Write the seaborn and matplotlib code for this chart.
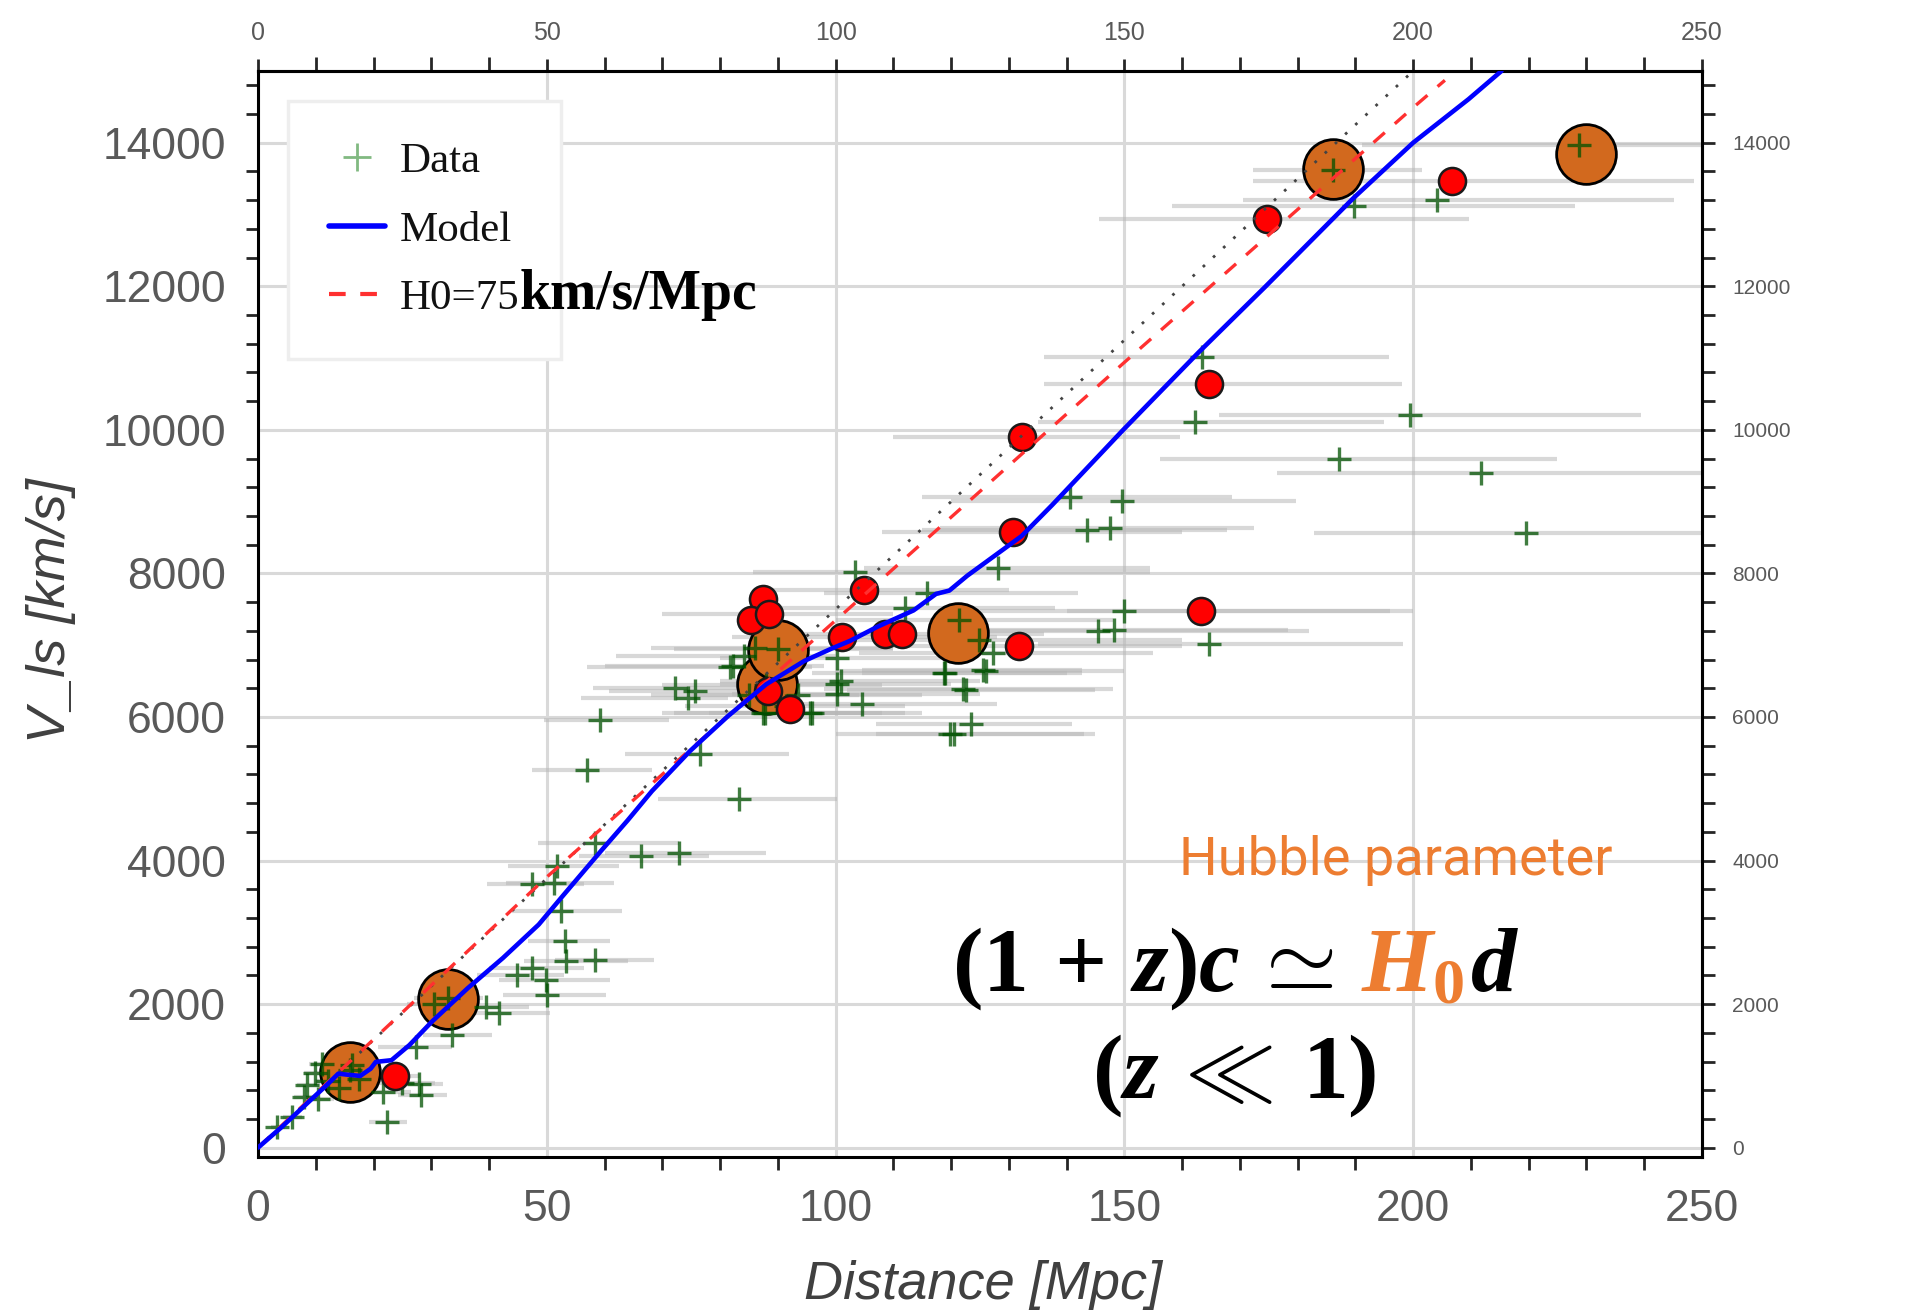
import matplotlib
matplotlib.use("Agg")
import matplotlib.pyplot as plt
import seaborn as sns
from matplotlib.lines import Line2D
from matplotlib.ticker import MultipleLocator
from matplotlib.offsetbox import TextArea, HPacker, AnnotationBbox

# ---------------- data ----------------
data_d = [3.2, 5.8, 8.0, 8.5, 9.9, 10.4, 11.0, 12.1, 14.0, 16.2, 17.5, 22.4, 21.6, 25.0, 27.8, 28.3,
          27.4, 30.5, 33.6, 39.4, 41.7, 44.8, 47.5, 49.8, 50.0, 53.4, 58.3, 53.2, 52.5, 47.5, 51.3,
          51.7, 58.4, 66.3, 72.9, 56.9, 59.2, 76.5, 83.3, 72.2, 75.6, 74.5, 82.2, 84.1, 81.8, 87.7,
          95.6, 100.2, 100.2, 104.5, 118.8, 125.6, 122.1, 123.4, 119.8, 120.5, 100.9, 95.9, 87.5,
          86.1, 100.2, 93.5, 118.9, 126.0, 122.5, 127.2, 124.8, 103.3, 115.8, 112.0, 128.2, 150.0,
          145.5, 148.2, 164.6, 140.6, 149.6, 143.6, 147.6, 219.6, 211.7, 187.2, 199.5, 162.3, 163.4,
          189.8, 204.1, 228.8, 186.2, 206.8, 174.7, 164.6, 132.3, 163.3, 121.3, 88.0, 90.0, 16.0,
          32.9, 23.7, 130.7, 104.9, 88.4, 101.1, 111.5, 131.8, 91.5, 85.0]
data_v = [290, 420, 700, 868, 1045, 681, 1160, 923, 830, 1148, 950, 364, 775, 900, 891, 728,
          1405, 2000, 1568, 1965, 1871, 2399, 2501, 2338, 2128, 2604, 2618, 2875, 3295, 3668, 3692,
          3925, 4247, 4060, 4107, 5256, 5953, 5488, 4851, 6409, 6363, 6270, 6712, 6851, 6703, 6060,
          6060, 6456, 6321, 6177, 6619, 6651, 6386, 5898, 5758, 5760, 6496, 6059, 6059,
          6956, 6818, 6312, 6611, 6634, 6372, 6896, 7071, 8014, 7729, 7517, 8069, 7470,
          7195, 7209, 7023, 9061, 9014, 8603, 8626, 8565, 9397, 9593, 10201, 10107, 11009,
          13121, 13206, 13963, 13626, 13463, 12939, 10635, 9897, 7476, 7350, 6450, 6950, 1078,
          2081, 999, 8575, 7775, 7439, 7117, 7149, 6993, 6150, 6300]
data_lo = [2.2, 4.4, 6.3, 6.8, 7.9, 8.4, 8.9, 9.8, 11.4, 13.0, 14.1, 19.3, 17.8, 20.6, 23.9, 24.3,
           20.8, 25.8, 28.5, 32.0, 36.0, 38.0, 40.0, 41.7, 42.4, 46.0, 51.4, 46.7, 44.0, 39.7, 43.0,
           43.2, 48.5, 55.6, 60.0, 47.5, 49.5, 63.6, 69.2, 58.0, 60.7, 56.0, 60.0, 62.0, 57.0, 72.0,
           78.0, 80.0, 82.0, 85.0, 104.5, 104.5, 98.0, 107.0, 107.0, 100.0, 80.0, 80.0, 70.0,
           68.0, 80.0, 75.0, 96.0, 100.0, 102.0, 104.0, 100.0, 85.7, 98.0, 90.0, 105.0, 125.0,
           118.0, 120.0, 135.0, 115.0, 120.0, 115.0, 118.0, 182.9, 176.4, 156.1, 166.3, 135.0, 136.0,
           158.2, 170.5, 191.2, 172.2, 172.2, 145.6, 136.0, 110.0, 140.0, 100.0, 70.0, 72.0, 12.5,
           27.0, 20.0, 108.0, 86.0, 70.0, 82.0, 90.0, 110.0, 74.0, 68.0]
data_hi = [4.6, 7.6, 10.2, 10.8, 12.6, 13.2, 14.0, 15.3, 17.6, 20.2, 21.8, 25.8, 26.4, 30.6, 32.0, 32.8,
           33.6, 36.4, 40.5, 47.0, 50.5, 53.0, 56.5, 61.0, 60.2, 64.0, 68.6, 61.0, 63.0, 56.5, 61.7,
           62.5, 72.9, 78.0, 88.0, 68.2, 71.2, 92.0, 100.2, 85.4, 88.0, 81.4, 98.0, 100.0, 96.0, 105.0,
           112.0, 120.0, 125.0, 128.0, 142.7, 142.7, 148.0, 141.0, 145.0, 143.0, 125.0, 115.0, 108.0,
           110.0, 122.0, 115.0, 140.0, 150.0, 145.0, 155.0, 160.0, 154.5, 142.0, 138.0, 154.4, 196.0,
           182.0, 178.3, 198.2, 168.6, 179.7, 167.8, 172.4, 262.0, 262.0, 224.9, 239.5, 195.0, 195.9,
           228.0, 245.2, 262.0, 201.5, 248.7, 209.6, 198.1, 159.7, 200.0, 148.0, 108.0, 110.0, 20.0,
           39.0, 28.0, 160.0, 130.0, 110.0, 128.0, 136.0, 160.0, 112.0, 104.0]

model_d = [0, 4, 8, 12, 13.9, 15.4, 17.7, 19.5, 20.4, 23.1, 26.2, 30.1, 36.3, 42.4, 48.6, 52.5,
           59.4, 64.0, 68.2, 74.8, 81.4, 88.0, 94.6, 99.4, 102.5, 107.2, 113.5, 117.4, 119.7, 122.8,
           127.5, 132.2, 137.5, 149.8, 162.8, 174.3, 189.6, 200.0, 209.6, 215.3]
model_v = [0, 280, 580, 880, 1031, 1017, 999, 1100, 1195, 1218, 1428, 1755, 2221, 2642, 3108, 3482,
           4135, 4560, 4967, 5526, 6014, 6456, 6781, 6956, 7060, 7255, 7485, 7715, 7761, 7968,
           8244, 8520, 8953, 10000, 11075, 11986, 13224, 14000, 14607, 15000]

h0_d = [0, 50, 100, 150, 200, 205.5]
h0_v = [0, 3770, 7345, 10940, 14490, 14870]

ref_d = [0, 200]
ref_v = [0, 15000]

red_d = [23.7, 88.3, 92.1, 87.5, 85.3, 88.4, 101.1, 108.6, 111.5, 104.9, 130.7, 131.8, 132.3,
         163.3, 164.6, 174.7, 206.8]
red_v = [999, 6358, 6105, 7646, 7347, 7439, 7117, 7149, 7149, 7775, 8575, 6993, 9897,
         7476, 10636, 12939, 13463]

orange_d = [16.0, 32.9, 88.1, 90.1, 121.2, 186.2, 230.0]
orange_v = [1060, 2075, 6455, 6930, 7175, 13630, 13848]

x_ticks = [0, 50, 100, 150, 200, 250]
y_ticks = [0, 2000, 4000, 6000, 8000, 10000, 12000, 14000]

# ---------------- style ----------------
sns.set_style("white")
plt.rcParams["font.family"] = ["Liberation Sans", "DejaVu Sans"]
plt.rcParams["mathtext.fontset"] = "custom"
plt.rcParams["mathtext.rm"] = "Liberation Serif:bold"
plt.rcParams["mathtext.bf"] = "Liberation Serif:bold"
plt.rcParams["mathtext.it"] = "Liberation Serif:italic:bold"

fig = plt.figure(figsize=(19.17, 13.14), dpi=100)
ax = fig.add_axes([0.1346, 0.1195, 0.7532, 0.8265])

# error bars
ax.hlines(data_v, data_lo, data_hi, color="#b8b8b8", alpha=0.55, lw=3, zorder=1)

sns.scatterplot(x=orange_d, y=orange_v, s=1850, color="#D2691E", edgecolor="black",
                linewidth=2, zorder=2, ax=ax, legend=False)
sns.scatterplot(x=data_d, y=data_v, marker="+", s=320, color="#005200", linewidth=2.4,
                alpha=0.75, zorder=3, ax=ax, legend=False)
sns.scatterplot(x=red_d, y=red_v, s=380, color="#FF0000", edgecolor="#1a1a1a",
                linewidth=1.8, zorder=4, ax=ax, legend=False)

sns.lineplot(x=ref_d, y=ref_v, sort=False, estimator=None, color="#444444", lw=2.0,
             linestyle=(0, (1, 4)), zorder=5, ax=ax)
sns.lineplot(x=h0_d, y=h0_v, sort=False, estimator=None, color="#FF3030", lw=2.4,
             linestyle=(0, (4.5, 4)), zorder=6, ax=ax)
sns.lineplot(x=model_d, y=model_v, sort=False, estimator=None, color="#0000FF", lw=3.3,
             zorder=7, ax=ax)

ax.set_xlim(0, 250)
ax.set_ylim(-130, 15000)
ax.set_xticks(x_ticks)
ax.set_yticks(y_ticks)
ax.xaxis.set_minor_locator(MultipleLocator(10))
ax.yaxis.set_minor_locator(MultipleLocator(400))
ax.grid(True, which="major", color="#d9d9d9", lw=2.2)
ax.set_axisbelow(True)
ax.set_xlabel("")
ax.set_ylabel("")
for s in ax.spines.values():
    s.set_linewidth(2.2)
    s.set_color("black")
ax.tick_params(which="major", direction="inout", length=18, width=2, labelsize=32,
               labelcolor="#595959", color="black", pad=14, top=False, right=False)
ax.tick_params(which="minor", direction="out", length=9, width=2, top=False, right=False,
               bottom=True, left=True)

secx = ax.secondary_xaxis("top")
secx.set_xticks(x_ticks)
secx.xaxis.set_minor_locator(MultipleLocator(10))
secx.tick_params(which="major", direction="inout", length=18, width=2, labelsize=18,
                 labelcolor="#595959", pad=10)
secx.tick_params(which="minor", direction="out", length=10, width=2)
secx.spines["top"].set_linewidth(2.2)

secy = ax.secondary_yaxis("right")
secy.set_yticks(y_ticks)
secy.yaxis.set_minor_locator(MultipleLocator(400))
secy.tick_params(which="major", direction="inout", length=18, width=2, labelsize=15,
                 labelcolor="#595959", pad=13)
secy.tick_params(which="minor", direction="out", length=9, width=2)
secy.spines["right"].set_linewidth(2.2)

fig.text(0.513, 0.022, "Distance [Mpc]", fontsize=39, style="italic", color="#404040",
         ha="center", va="center")
fig.text(0.0266, 0.535, "V_ls [km/s]", fontsize=39, style="italic", color="#404040",
         ha="center", va="center", rotation=90)

handles = [Line2D([], [], marker="+", ls="none", color="#2e8b2e", alpha=0.6, ms=20, mew=2),
           Line2D([], [], color="#0000FF", lw=4),
           Line2D([], [], color="#FF3030", lw=3, linestyle=(0, (4, 3.5)))]
leg = ax.legend(handles, ["Data", "Model", "H0=75"], loc="upper left",
                bbox_to_anchor=(0.0208, 0.972), prop={"family": "Liberation Serif", "size": 31},
                frameon=True, fancybox=False, edgecolor="#eeeeee", framealpha=1,
                borderpad=0.95, labelspacing=0.68, handlelength=1.3, handletextpad=0.35,
                borderaxespad=0)
leg.get_frame().set_linewidth(2.5)
for t in leg.get_texts():
    t.set_color("#111111")

fig.canvas.draw()
r = fig.canvas.get_renderer()
bb = leg.get_texts()[2].get_window_extent(r)
fig.text(bb.x1 / fig.bbox.width, (bb.y0 + 9) / fig.bbox.height, "km/s/Mpc",
         family="Liberation Serif", weight="bold", fontsize=40, color="black",
         ha="left", va="baseline", zorder=10)

fig.text(0.728, 0.3455, "Hubble parameter", family="Roboto", fontsize=39,
         color="#ED7D31", ha="center", va="center")

fs = 66
ta1 = TextArea(r"$(1\,+\,z)c\,\simeq$", textprops=dict(color="black", fontsize=fs))
ta2 = TextArea(r"$H_0$", textprops=dict(color="#ED7D31", fontsize=fs))
ta3 = TextArea(r"$d$", textprops=dict(color="black", fontsize=fs))
box = HPacker(children=[ta1, ta2, ta3], align="baseline", pad=0, sep=0)
box = HPacker(children=[ta1, HPacker(children=[ta2, ta3], align="baseline", pad=0, sep=4)],
              align="baseline", pad=0, sep=20)
ab = AnnotationBbox(box, (0.6445, 0.2633), xycoords="figure fraction", frameon=False,
                    box_alignment=(0.5, 0.5))
fig.add_artist(ab)
fig.text(0.6436, 0.1811, r"$(z\,\ll\,1)$", fontsize=fs, color="black", ha="center", va="center")

fig.savefig("out.png", dpi=100)
